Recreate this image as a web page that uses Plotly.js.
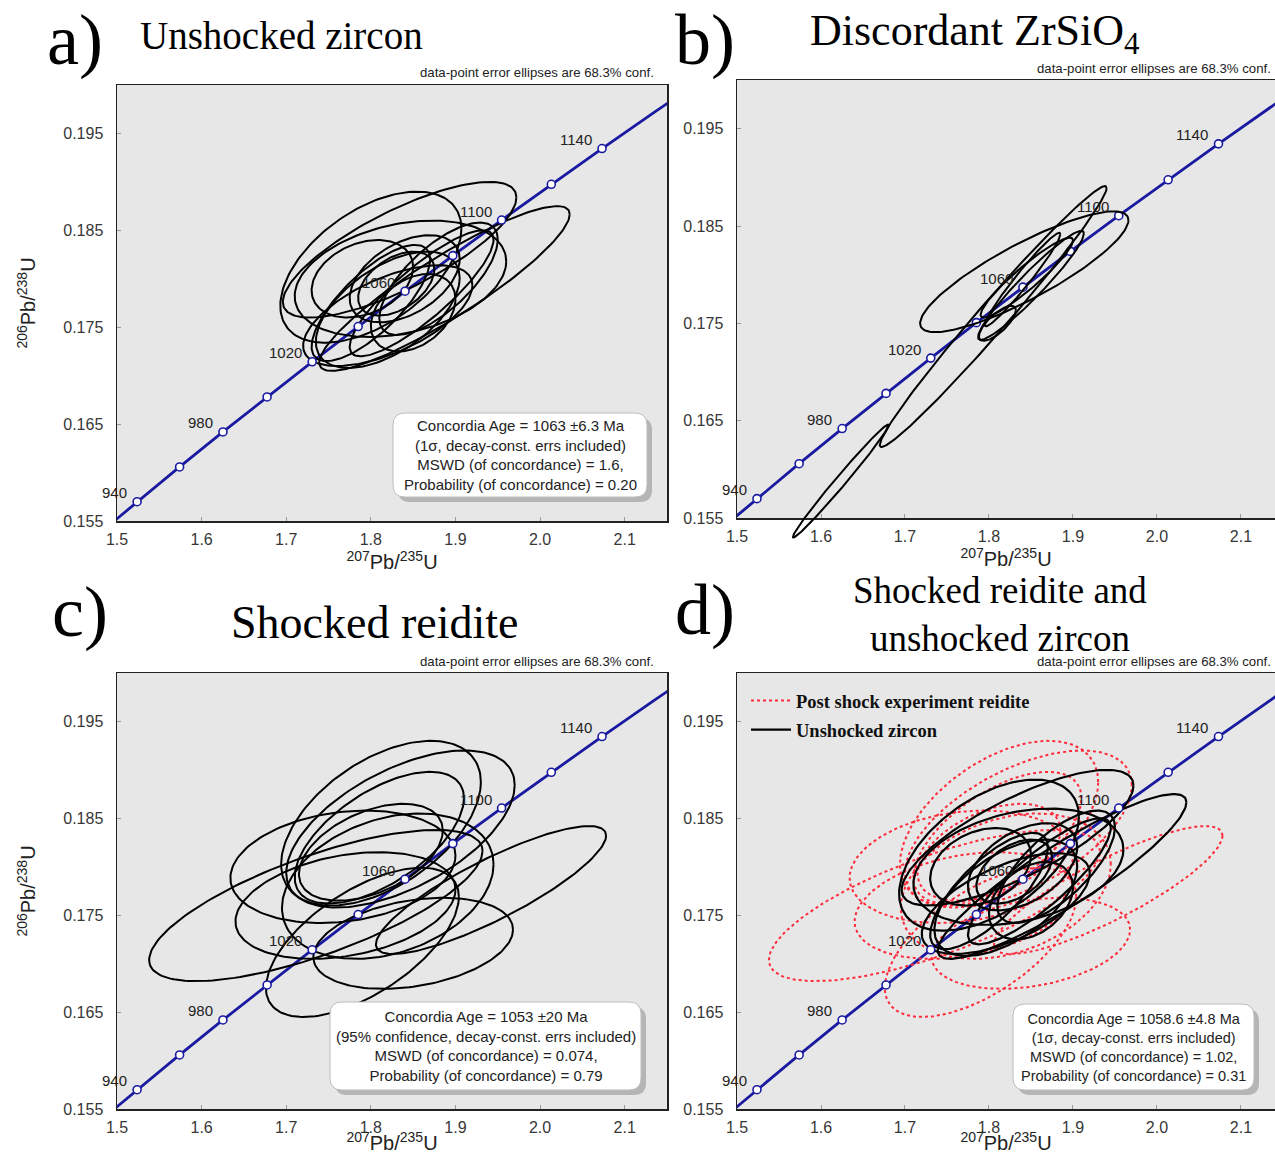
<!DOCTYPE html>
<html><head><meta charset="utf-8">
<script src="https://cdn.plot.ly/plotly-3.0.1.min.js"></script>
<style>html,body{margin:0;padding:0;background:#fff}#chart{width:1275px;height:1154px}</style>
</head><body><div id="chart"></div>
<script>
const W = 1275, H = 1154;

// Concordia curve (age in Ma, 207Pb/235U, 206Pb/238U)
const conAge = [920, 940, 960, 980, 1000, 1020, 1040, 1060, 1080, 1100, 1120, 1140, 1160, 1180];
const conX = [1.47456, 1.52378, 1.57399, 1.62519, 1.67741, 1.73067, 1.78499, 1.84039, 1.89689, 1.95451, 2.01328, 2.07322, 2.13436, 2.19671];
const conY = [0.15340, 0.15699, 0.16058, 0.16419, 0.16780, 0.17143, 0.17507, 0.17872, 0.18239, 0.18606, 0.18975, 0.19344, 0.19715, 0.20087];
const markAge = [940, 960, 980, 1000, 1020, 1040, 1060, 1080, 1100, 1120, 1140];
const labelAge = [940, 980, 1020, 1060, 1100, 1140];

// a) Unshocked zircon ellipses (centre x, centre y, half-width x, half-height y, correlation)
const zirCx  = [1.834, 1.800, 1.887, 1.835, 1.820, 1.800, 1.840, 1.830, 1.860, 1.850, 1.880, 1.820, 1.790];
const zirCy  = [0.1830, 0.1812, 0.1790, 0.1800, 0.1768, 0.1775, 0.1800, 0.1795, 0.1785, 0.1765, 0.1800, 0.1762, 0.1800];
const zirSx  = [0.138, 0.107, 0.148, 0.125, 0.085, 0.070, 0.065, 0.045, 0.085, 0.050, 0.070, 0.100, 0.060];
const zirSy  = [0.0070, 0.0078, 0.0085, 0.0060, 0.0060, 0.0060, 0.0045, 0.0033, 0.0065, 0.0040, 0.0058, 0.0052, 0.0040];
const zirRho = [0.77, 0.51, 0.90, 0.30, 0.55, 0.75, 0.45, 0.45, 0.85, 0.35, 0.70, 0.60, 0.30];

// b) Discordant ZrSiO4 ellipses
const disCx  = [1.842, 1.6235, 1.805, 1.850, 1.845, 1.810, 1.840];
const disCy  = [0.1803, 0.1588, 0.1757, 0.1789, 0.1797, 0.1750, 0.1795];
const disSx  = [0.124, 0.057, 0.135, 0.063, 0.055, 0.022, 0.045];
const disSy  = [0.0062, 0.0058, 0.0134, 0.0056, 0.0041, 0.0018, 0.0048];
const disRho = [0.855, 0.99, 0.985, 0.95, 0.93, 0.75, 0.97];

// c) Shocked reidite ellipses
const reiCx  = [1.735, 1.942, 1.850, 1.790, 1.767, 1.812, 1.835, 1.810, 1.820, 1.770, 1.800];
const reiCy  = [0.1760, 0.1776, 0.1721, 0.1722, 0.1800, 0.1845, 0.1839, 0.1830, 0.1780, 0.1760, 0.1815];
const reiSx  = [0.197, 0.136, 0.118, 0.114, 0.133, 0.118, 0.135, 0.100, 0.125, 0.130, 0.085];
const reiSy  = [0.0078, 0.0066, 0.0047, 0.0077, 0.0058, 0.0085, 0.0081, 0.0068, 0.0075, 0.0055, 0.0050];
const reiRho = [0.72, 0.85, 0.30, 0.61, 0.20, 0.50, 0.56, 0.60, 0.30, 0.30, 0.45];

// axes ticks
const xTicks = [1.5, 1.6, 1.7, 1.8, 1.9, 2.0, 2.1];
const xTickText = ['1.5', '1.6', '1.7', '1.8', '1.9', '2.0', '2.1'];
const yTicks = [0.155, 0.165, 0.175, 0.185, 0.195];
const yTickText = ['0.155', '0.165', '0.175', '0.185', '0.195'];

const panelLetters = ['a)', 'b)', 'c)', 'd)'];
const panelTitles = ['Unshocked zircon', 'Discordant ZrSiO<sub>4</sub>', 'Shocked reidite', 'Shocked reidite and<br>unshocked zircon'];
const boxTexts = [
  'Concordia Age = 1063 ±6.3 Ma<br>(1σ, decay-const. errs included)<br>MSWD (of concordance) = 1.6,<br>Probability (of concordance) = 0.20',
  null,
  'Concordia Age = 1053 ±20 Ma<br>(95% confidence, decay-const. errs included)<br>MSWD (of concordance) = 0.074,<br>Probability (of concordance) = 0.79',
  'Concordia Age = 1058.6 ±4.8 Ma<br>(1σ, decay-const. errs included)<br>MSWD (of concordance) = 1.02,<br>Probability (of concordance) = 0.31'
];
const legendNames = ['Post shock experiment reidite', 'Unshocked zircon'];

// ---- layout geometry (pixels) ----
const panels = [
  {px: [117, 667], py: [85, 521], xr: [1.5, 2.15], ytitle: true, mirrorR: true,
   title: {x: 281, y: 36, size: 39}, letter: {x: 75, y: 40}, note: {x: 656, y: 82},
   box: [393, 413, 647, 497], boxFont: 15},
  {px: [737, 1275], py: [80, 518], xr: [1.5, 2.1405], ytitle: false, mirrorR: false,
   title: {x: 975, y: 34, size: 44}, letter: {x: 705, y: 40}, note: {x: 1273, y: 78}},
  {px: [117, 667], py: [673, 1109], xr: [1.5, 2.15], ytitle: true, mirrorR: true,
   title: {x: 374, y: 622, size: 46}, letter: {x: 80, y: 612}, note: {x: 656, y: 671},
   box: [330, 1002, 641, 1090], boxFont: 15},
  {px: [737, 1275], py: [673, 1109], xr: [1.5, 2.1405], ytitle: false, mirrorR: false,
   title: {x: 1000, y: 614, size: 37}, letter: {x: 705, y: 610}, note: {x: 1273, y: 671},
   box: [1013, 1004, 1254, 1090], boxFont: 14.5}
];

function ellipse(cx, cy, sx, sy, r) {
  const xs = [], ys = [], s = Math.sqrt(1 - r * r), n = 160;
  for (let i = 0; i <= n; i++) {
    const t = 2 * Math.PI * i / n;
    xs.push(cx + sx * Math.cos(t));
    ys.push(cy + sy * (r * Math.cos(t) + s * Math.sin(t)));
  }
  return {xs, ys};
}

const traces = [];
const layout = {
  width: W, height: H, margin: {l: 0, r: 0, t: 0, b: 0},
  paper_bgcolor: '#ffffff', plot_bgcolor: 'rgba(0,0,0,0)',
  showlegend: true,
  legend: {x: 746 / W, y: 1 - 682 / H, xanchor: 'left', yanchor: 'top', bgcolor: 'rgba(0,0,0,0)',
           font: {family: 'Liberation Serif, Times New Roman, serif', size: 18.5, weight: 'bold', color: '#111'},
           itemwidth: 40, tracegroupgap: 2},
  annotations: [], shapes: []
};

const tickFont = {family: 'Liberation Sans, Arial, sans-serif', size: 16, color: '#383838'};
const axTitleFont = {family: 'Liberation Sans, Arial, sans-serif', size: 20, color: '#222'};

function px2paperX(p) { return p / W; }
function px2paperY(p) { return 1 - p / H; }

function roundRectPath(x0, y0, x1, y1, r) {
  const X = v => px2paperX(v).toFixed(5), Y = v => px2paperY(v).toFixed(5);
  return `M${X(x0 + r)},${Y(y0)} L${X(x1 - r)},${Y(y0)} Q${X(x1)},${Y(y0)} ${X(x1)},${Y(y0 + r)} ` +
         `L${X(x1)},${Y(y1 - r)} Q${X(x1)},${Y(y1)} ${X(x1 - r)},${Y(y1)} L${X(x0 + r)},${Y(y1)} ` +
         `Q${X(x0)},${Y(y1)} ${X(x0)},${Y(y1 - r)} L${X(x0)},${Y(y0 + r)} Q${X(x0)},${Y(y0)} ${X(x0 + r)},${Y(y0)} Z`;
}

function addEllipses(cx, cy, sx, sy, rho, xa, ya, style, legendName) {
  for (let i = 0; i < cx.length; i++) {
    const e = ellipse(cx[i], cy[i], sx[i], sy[i], rho[i]);
    traces.push({
      type: 'scatter', mode: 'lines', x: e.xs, y: e.ys, xaxis: xa, yaxis: ya,
      line: style, hoverinfo: 'skip',
      name: legendName || '', showlegend: !!legendName && i === 0, legendgroup: legendName || undefined
    });
  }
}

panels.forEach((p, k) => {
  const n = k + 1;
  const xa = n === 1 ? 'x' : 'x' + n, ya = n === 1 ? 'y' : 'y' + n;
  const xk = n === 1 ? 'xaxis' : 'xaxis' + n, yk = n === 1 ? 'yaxis' : 'yaxis' + n;

  // plot area background
  layout.shapes.push({type: 'rect', xref: 'paper', yref: 'paper', layer: 'below',
    x0: px2paperX(p.px[0]), x1: px2paperX(p.px[1]), y0: px2paperY(p.py[1]), y1: px2paperY(p.py[0]),
    fillcolor: '#e7e7e7', line: {width: 0}});

  layout[xk] = {
    domain: [px2paperX(p.px[0]), px2paperX(p.px[1])], anchor: ya, range: p.xr,
    tickvals: xTicks, ticktext: xTickText, tickfont: tickFont,
    ticks: 'inside', ticklen: 4, tickcolor: '#999', ticklabelstandoff: 3,
    showgrid: false, zeroline: false, showline: true, linecolor: '#222', linewidth: 1.5, mirror: true,
    title: {text: '<sup>207</sup>Pb/<sup>235</sup>U', font: axTitleFont, standoff: 0}
  };
  layout[yk] = {
    domain: [px2paperY(p.py[1]), px2paperY(p.py[0])], anchor: xa, range: [0.155, 0.2],
    tickvals: yTicks, ticktext: yTickText, tickfont: tickFont,
    ticks: 'inside', ticklen: 4, tickcolor: '#999', ticklabelstandoff: 9,
    showgrid: false, zeroline: false, showline: true, linecolor: '#222', linewidth: 1.5, mirror: p.mirrorR,
    title: p.ytitle ? {text: '<sup>206</sup>Pb/<sup>238</sup>U', font: axTitleFont, standoff: 22} : {text: ''}
  };

  // concordia line
  traces.push({type: 'scatter', mode: 'lines', x: conX, y: conY, xaxis: xa, yaxis: ya,
    line: {color: '#1a1aa0', width: 2.8}, hoverinfo: 'skip', showlegend: false});

  // ellipses
  if (k === 0) addEllipses(zirCx, zirCy, zirSx, zirSy, zirRho, xa, ya, {color: '#000', width: 2});
  if (k === 2) addEllipses(reiCx, reiCy, reiSx, reiSy, reiRho, xa, ya, {color: '#000', width: 2});
  if (k === 3) {
    addEllipses(reiCx, reiCy, reiSx, reiSy, reiRho, xa, ya, {color: '#ff2a3a', width: 2, dash: 'dot'}, legendNames[0]);
    addEllipses(zirCx, zirCy, zirSx, zirSy, zirRho, xa, ya, {color: '#000', width: 2.2}, legendNames[1]);
  }

  // age markers
  const mx = [], my = [];
  conAge.forEach((a, i) => { if (markAge.includes(a)) { mx.push(conX[i]); my.push(conY[i]); } });
  traces.push({type: 'scatter', mode: 'markers', x: mx, y: my, xaxis: xa, yaxis: ya,
    marker: {size: 8, color: '#ffffff', line: {color: '#1a1aa0', width: 1.6}}, hoverinfo: 'skip', showlegend: false});

  // age labels
  conAge.forEach((a, i) => {
    if (labelAge.includes(a)) {
      layout.annotations.push({x: conX[i], y: conY[i], xref: xa, yref: ya, text: String(a), showarrow: false,
        xanchor: 'right', yanchor: 'middle', xshift: -8, yshift: 9,
        font: {family: 'Liberation Sans, Arial, sans-serif', size: 15, color: '#222'}});
    }
  });

  // letter and title
  layout.annotations.push({x: px2paperX(p.letter.x), y: px2paperY(p.letter.y), xref: 'paper', yref: 'paper',
    text: panelLetters[k], showarrow: false, xanchor: 'center', yanchor: 'middle',
    font: {family: 'Liberation Serif, Times New Roman, serif', size: 72, color: '#000'}});
  layout.annotations.push({x: px2paperX(p.title.x), y: px2paperY(p.title.y), xref: 'paper', yref: 'paper',
    text: panelTitles[k], showarrow: false, xanchor: 'center', yanchor: 'middle',
    font: {family: 'Liberation Serif, Times New Roman, serif', size: p.title.size, color: '#000'}});
  // confidence note
  layout.annotations.push({x: px2paperX(p.note.x), y: px2paperY(p.note.y), xref: 'paper', yref: 'paper',
    text: 'data-point error ellipses are 68.3% conf.', showarrow: false, xanchor: 'right', yanchor: 'bottom',
    font: {family: 'Liberation Sans, Arial, sans-serif', size: 13.2, color: '#222'}});

  // result box
  if (p.box) {
    const [x0, y0, x1, y1] = p.box;
    layout.shapes.push({type: 'path', xref: 'paper', yref: 'paper', path: roundRectPath(x0 + 5, y0 + 5, x1 + 5, y1 + 5, 12),
      fillcolor: 'rgba(120,120,120,0.45)', line: {width: 0}, layer: 'above'});
    layout.shapes.push({type: 'path', xref: 'paper', yref: 'paper', path: roundRectPath(x0, y0, x1, y1, 12),
      fillcolor: '#ffffff', line: {color: '#bdbdbd', width: 1}, layer: 'above'});
    layout.annotations.push({x: px2paperX((x0 + x1) / 2), y: px2paperY((y0 + y1) / 2), xref: 'paper', yref: 'paper',
      text: boxTexts[k], showarrow: false, xanchor: 'center', yanchor: 'middle', align: 'center',
      font: {family: 'Liberation Sans, Arial, sans-serif', size: p.boxFont, color: '#222'}});
  }
});

// Overlay axes for panel b (same scale, taller area) so the discordant ellipses may run past the frame bottom
const pb = panels[1];
const extPx = 26;
const yPerPx = 0.045 / (pb.py[1] - pb.py[0]);
layout.xaxis5 = {domain: [px2paperX(pb.px[0]), px2paperX(pb.px[1])], anchor: 'y5', range: pb.xr, visible: false, fixedrange: true};
layout.yaxis5 = {domain: [px2paperY(pb.py[1] + extPx), px2paperY(pb.py[0])], anchor: 'x5',
                 range: [0.155 - extPx * yPerPx, 0.2], visible: false, fixedrange: true};
addEllipses(disCx, disCy, disSx, disSy, disRho, 'x5', 'y5', {color: '#000', width: 2});

Plotly.newPlot('chart', traces, layout, {displayModeBar: false, staticPlot: true});
</script>
</body></html>
